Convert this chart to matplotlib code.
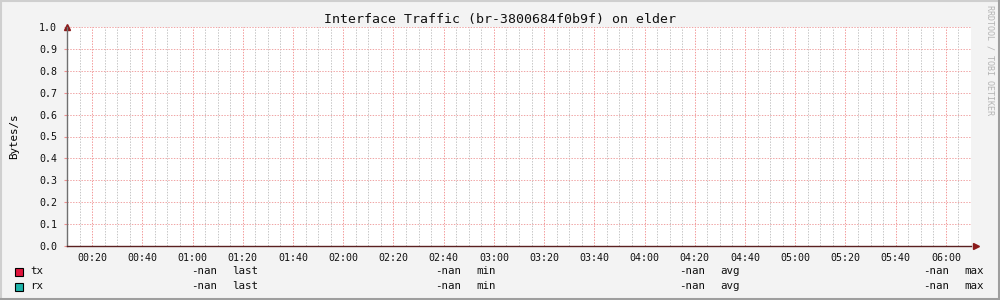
import numpy as np
import matplotlib
matplotlib.use("Agg")
import matplotlib.pyplot as plt
from matplotlib.lines import Line2D
from matplotlib.patches import Rectangle

# time axis in minutes after midnight
time_start = 10
time_end = 370
tick_minutes = [20, 40, 60, 80, 100, 120, 140, 160, 180, 200,
                220, 240, 260, 280, 300, 320, 340, 360]
tick_labels = ["00:20", "00:40", "01:00", "01:20", "01:40", "02:00",
               "02:20", "02:40", "03:00", "03:20", "03:40", "04:00",
               "04:20", "04:40", "05:00", "05:20", "05:40", "06:00"]
y_ticks = [0.0, 0.1, 0.2, 0.3, 0.4, 0.5, 0.6, 0.7, 0.8, 0.9, 1.0]

# no data was collected: every sample is NaN
sample_minutes = [10, 130, 250, 370]
tx = [np.nan, np.nan, np.nan, np.nan]
rx = [np.nan, np.nan, np.nan, np.nan]

series_names = ["tx", "rx"]
series_colors = ["#e0143c", "#1eb4aa"]
stat_names = ["last", "min", "avg", "max"]
stat_values = {"tx": ["-nan", "-nan", "-nan", "-nan"],
               "rx": ["-nan", "-nan", "-nan", "-nan"]}

mono = "DejaVu Sans Mono"
plt.rcParams["font.family"] = mono

fig = plt.figure(figsize=(10, 3), dpi=100, facecolor="#f3f3f3")
ax = fig.add_axes([67 / 1000, 54 / 300, 904 / 1000, 219 / 300])
ax.set_facecolor("white")

ax.plot(sample_minutes, tx, color=series_colors[0])
ax.plot(sample_minutes, rx, color=series_colors[1])

ax.set_xlim(time_start, time_end)
ax.set_ylim(0, 1.0)
ax.set_xticks(tick_minutes)
ax.set_xticklabels(tick_labels)
ax.set_xticks(np.arange(time_start, time_end + 1, 5), minor=True)
ax.set_yticks(y_ticks)
ax.set_yticklabels(["%.1f" % v for v in y_ticks])

dot = (0, (1.4, 1.4))
ax.grid(which="minor", axis="x", color="#c6c6c6", linestyle=dot,
        linewidth=0.72)
ax.grid(which="major", axis="x", color="#f39a9a", linestyle=dot,
        linewidth=0.72)
ax.grid(which="major", axis="y", color="#f0a6a6", linestyle=dot,
        linewidth=0.72)
ax.set_axisbelow(True)

ax.tick_params(axis="x", which="both", length=0, labelsize=7.2, pad=5,
               labelcolor="#111111")
ax.tick_params(axis="y", which="major", length=2, color="#f09090",
               labelsize=7.2, pad=5, labelcolor="#111111")
ax.tick_params(axis="y", which="minor", length=0)

for side in ["top", "right"]:
    ax.spines[side].set_visible(False)
ax.spines["left"].set_color("#707070")
ax.spines["bottom"].set_color("#5a2020")
ax.spines["left"].set_linewidth(1.0)
ax.spines["bottom"].set_linewidth(1.0)

# arrow heads at the axis ends
ax.plot([0], [1.0], marker="^", markersize=4.5, color="#8b1a1a",
        transform=ax.transAxes, clip_on=False)
ax.plot([1.005], [0], marker=">", markersize=4.5, color="#8b1a1a",
        transform=ax.transAxes, clip_on=False)

ax.set_ylabel("Bytes/s", fontsize=7.8)
ax.yaxis.set_label_coords(-0.053, 0.5)

fig.text(0.5, 1 - 19 / 300, "Interface Traffic (br-3800684f0b9f) on elder",
         ha="center", va="center", fontsize=9.5, color="#111111")
fig.text(990 / 1000, 1 - 60 / 300, "RRDTOOL / TOBI OETIKER", rotation=-90,
         ha="center", va="center", fontsize=6, color="#b4b4b4")

# legend rows
stat_right = [217, 461, 705, 949]
row_y = [271, 286]
for name, color, y in zip(series_names, series_colors, row_y):
    fy = 1 - y / 300
    fig.add_artist(Rectangle((15 / 1000, fy - 4.5 / 300), 8 / 1000, 8 / 300,
                             facecolor=color, edgecolor="black",
                             linewidth=0.8, transform=fig.transFigure))
    fig.text(30 / 1000, fy, name, ha="left", va="center", fontsize=7.8,
             color="#111111")
    for right, stat, val in zip(stat_right, stat_names, stat_values[name]):
        fig.text(right / 1000, fy, val, ha="right", va="center",
                 fontsize=7.8, color="#111111")
        fig.text((right + 15) / 1000, fy, stat, ha="left", va="center",
                 fontsize=7.8, color="#111111")

# bevelled frame
fig.add_artist(Line2D([0, 1], [1 - 1 / 300, 1 - 1 / 300], color="#cfcfcf",
                      linewidth=1.5, transform=fig.transFigure))
fig.add_artist(Line2D([1 / 1000, 1 / 1000], [0, 1], color="#cfcfcf",
                      linewidth=1.5, transform=fig.transFigure))
fig.add_artist(Line2D([0, 1], [1.5 / 300, 1.5 / 300], color="#9e9e9e",
                      linewidth=2.2, transform=fig.transFigure))
fig.add_artist(Line2D([998.5 / 1000, 998.5 / 1000], [0, 1], color="#9e9e9e",
                      linewidth=2.2, transform=fig.transFigure))

fig.savefig("out.png", dpi=100, facecolor=fig.get_facecolor())
